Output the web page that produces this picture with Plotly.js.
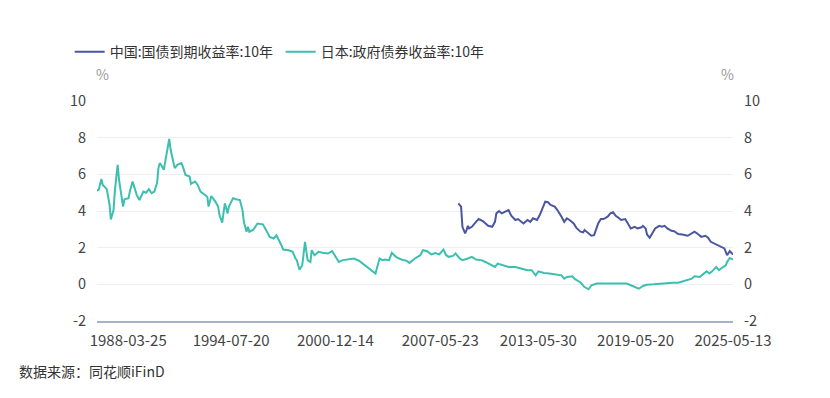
<!DOCTYPE html>
<html>
<head>
<meta charset="utf-8">
<script src="https://cdn.plot.ly/plotly-3.0.1.min.js"></script>
<style>html,body{margin:0;padding:0;background:#fff;}#chart{width:830px;height:398px;}</style>
</head>
<body>
<div id="chart"></div>
<script>
// ---- data ----
const seriesNames = ["中国:国债到期收益率:10年", "日本:政府债券收益率:10年"];

const japanDates = ["1986-04","1986-06","1986-08","1986-09","1986-12","1987-02","1987-03","1987-05","1987-06","1987-07","1987-08","1987-09","1987-10","1987-12","1988-01","1988-04","1988-05","1988-07","1988-08","1988-10","1988-12","1989-03","1989-05","1989-07","1989-09","1989-11","1990-01","1990-02","1990-03","1990-04","1990-06","1990-07","1990-09","1990-10","1990-11","1991-01","1991-02","1991-04","1991-07","1991-08","1991-10","1992-01","1992-02","1992-05","1992-07","1992-09","1992-12","1993-02","1993-03","1993-05","1993-08","1993-10","1993-11","1994-01","1994-03","1994-05","1994-06","1994-09","1994-11","1995-02","1995-04","1995-05","1995-07","1995-08","1995-09","1995-12","1996-03","1996-07","1996-10","1996-12","1997-03","1997-05","1997-08","1997-10","1998-02","1998-05","1998-07","1998-08","1998-10","1998-12","1999-02","1999-04","1999-06","1999-07","1999-09","1999-12","2000-03","2000-07","2000-10","2000-12","2001-03","2001-06","2001-10","2002-02","2002-06","2002-10","2003-02","2003-06","2003-07","2003-09","2003-11","2004-01","2004-04","2004-06","2004-09","2005-01","2005-05","2005-07","2005-11","2006-03","2006-05","2006-08","2006-11","2007-02","2007-05","2007-08","2007-10","2007-12","2008-03","2008-05","2008-08","2008-10","2009-02","2009-05","2009-08","2009-12","2010-03","2010-07","2010-10","2010-12","2011-04","2011-08","2012-01","2012-05","2012-10","2013-01","2013-04","2013-06","2013-10","2014-02","2014-07","2014-11","2015-01","2015-03","2015-07","2015-09","2016-01","2016-03","2016-04","2016-07","2016-09","2017-01","2017-04","2017-09","2018-01","2018-06","2018-11","2019-02","2019-06","2019-08","2019-11","2020-02","2020-07","2020-12","2021-04","2021-09","2022-01","2022-04","2022-08","2022-11","2023-01","2023-05","2023-07","2023-10","2023-12","2024-02","2024-05","2024-07","2024-09","2024-12","2025-01","2025-03","2025-05-13"];
const japanValues = [5.11,5.15,5.74,5.42,5.19,4.33,3.54,4.05,5.15,5.70,6.52,5.70,5.19,4.24,4.64,4.70,5.06,5.61,5.37,4.88,4.60,5.06,5.00,5.19,4.97,5.06,5.52,6.34,6.61,6.52,6.25,6.70,7.44,7.93,7.34,6.61,6.34,6.52,6.61,6.43,5.97,5.88,5.48,5.61,5.42,5.06,4.92,4.78,4.24,4.82,4.51,4.24,3.78,3.36,4.42,3.87,4.24,4.70,4.64,4.60,4.05,3.41,2.87,3.14,2.87,2.98,3.32,3.27,2.87,2.59,2.50,2.68,2.23,1.90,1.86,1.77,1.41,1.32,0.80,1.04,2.32,1.32,1.22,1.86,1.59,1.77,1.72,1.68,1.81,1.59,1.22,1.32,1.35,1.41,1.28,1.04,0.80,0.59,0.86,1.41,1.32,1.35,1.32,1.72,1.50,1.35,1.28,1.17,1.41,1.59,1.86,1.81,1.63,1.70,1.63,1.90,1.59,1.50,1.55,1.68,1.41,1.32,1.41,1.50,1.35,1.32,1.22,1.04,0.95,1.13,1.04,0.95,0.95,0.86,0.77,0.77,0.49,0.71,0.62,0.59,0.55,0.49,0.31,0.40,0.44,0.28,0.10,-0.09,-0.15,-0.27,-0.05,0.04,0.04,0.04,0.04,0.00,0.04,-0.05,-0.15,-0.24,-0.09,-0.02,0.00,0.04,0.04,0.09,0.09,0.16,0.22,0.31,0.44,0.40,0.53,0.71,0.59,0.71,0.95,0.77,0.89,1.04,1.22,1.44,1.35];

const chinaDates = ["2008-07","2008-09","2008-10","2008-12","2009-01","2009-02","2009-03","2009-05","2009-08","2009-10","2010-01","2010-03","2010-05","2010-08","2010-10","2010-11","2011-01","2011-03","2011-05","2011-08","2011-10","2012-01","2012-03","2012-05","2012-07","2012-10","2012-12","2013-02","2013-05","2013-07","2013-09","2013-11","2014-01","2014-03","2014-06","2014-08","2014-11","2015-01","2015-03","2015-05","2015-08","2015-10","2016-01","2016-03","2016-04","2016-06","2016-09","2016-11","2017-01","2017-02","2017-04","2017-06","2017-09","2017-11","2018-01","2018-03","2018-05","2018-07","2018-10","2018-12","2019-02","2019-05","2019-07","2019-10","2019-11","2020-01","2020-02","2020-04","2020-06","2020-08","2020-11","2021-01","2021-03","2021-05","2021-08","2021-10","2022-01","2022-04","2022-08","2022-11","2023-01","2023-04","2023-06","2023-09","2023-11","2024-01","2024-05","2024-08","2024-11","2025-01","2025-03","2025-05-13"];
const chinaValues = [4.42,4.24,3.14,2.78,2.96,3.19,3.05,3.14,3.41,3.56,3.45,3.32,3.19,3.14,3.41,3.87,4.00,3.87,3.96,4.05,3.74,3.51,3.56,3.45,3.32,3.51,3.41,3.60,3.51,3.78,4.15,4.51,4.48,4.33,4.24,4.05,3.69,3.41,3.60,3.51,3.32,3.08,2.87,2.83,2.96,2.83,2.65,2.68,3.14,3.32,3.56,3.56,3.69,3.87,3.93,3.74,3.63,3.51,3.56,3.27,3.05,3.14,3.05,3.11,3.19,3.05,2.72,2.54,2.78,3.05,3.19,3.14,3.19,3.05,2.92,2.90,2.74,2.72,2.65,2.78,2.87,2.72,2.59,2.65,2.54,2.32,2.18,2.10,1.96,1.59,1.81,1.63];

const xTickLabels = ["1988-03-25","1994-07-20","2000-12-14","2007-05-23","2013-05-30","2019-05-20","2025-05-13"];
const yTicks = [-2,0,2,4,6,8,10];
const yTickLabels = ["-2","0","2","4","6","8","10"];
const xRange = ["1986-04-25","2025-05-13"];
const yRange = [-2,10];

// ---- chart ----
const FONT = '"Noto Sans CJK SC", "Noto Sans", sans-serif';
const XTICKFONT = {family: FONT, size: 15, color: '#444'};
const YTICKFONT = {family: FONT, size: 14.5, color: '#444'};
const traces = [
  {x: chinaDates, y: chinaValues, name: seriesNames[0], type: 'scatter', mode: 'lines',
   yaxis: 'y2', line: {color: '#4a56a0', width: 2}, hoverinfo: 'skip'},
  {x: japanDates, y: japanValues, name: seriesNames[1], type: 'scatter', mode: 'lines',
   line: {color: '#3cbfae', width: 2}, hoverinfo: 'skip'}
];

const layout = {
  width: 830, height: 398,
  margin: {l: 97, r: 97, t: 101, b: 77},
  paper_bgcolor: '#ffffff', plot_bgcolor: '#ffffff',
  font: {family: FONT, size: 14, color: '#333'},
  showlegend: true,
  legend: {orientation: 'h', x: -0.043, xanchor: 'left', y: 1.295, yanchor: 'top',
           font: {family: FONT, size: 14, color: '#333'}, itemwidth: 30,
           entrywidth: 166, traceorder: 'normal', bgcolor: 'rgba(0,0,0,0)'},
  xaxis: {type: 'date', range: xRange, tickvals: xTickLabels, ticktext: xTickLabels,
          showgrid: false, zeroline: false, showline: true, linecolor: '#a9b1c6', linewidth: 2,
          ticks: '', ticklabelstandoff: 5, tickfont: XTICKFONT, fixedrange: true},
  yaxis: {range: yRange, tickvals: yTicks, ticktext: yTickLabels, showgrid: true,
          gridcolor: '#eceff6', gridwidth: 1,
          zeroline: false, showline: false, ticks: '', ticklabelstandoff: 10,
          tickfont: YTICKFONT, fixedrange: true},
  yaxis2: {range: yRange, tickvals: yTicks, ticktext: yTickLabels, overlaying: 'y', side: 'right',
           showgrid: false, zeroline: false, showline: false, ticks: '', ticklabelstandoff: 10,
           tickfont: YTICKFONT, fixedrange: true},
  annotations: [
    {text: '%', xref: 'paper', yref: 'paper', x: 0.008, y: 1.125, xanchor: 'center', yanchor: 'middle',
     showarrow: false, font: {family: FONT, size: 14, color: '#999'}},
    {text: '%', xref: 'paper', yref: 'paper', x: 0.992, y: 1.125, xanchor: 'center', yanchor: 'middle',
     showarrow: false, font: {family: FONT, size: 14, color: '#999'}},
    {text: '数据来源：同花顺iFinD', xref: 'paper', yref: 'paper', x: -0.1258, y: -0.225,
     xanchor: 'left', yanchor: 'middle', showarrow: false, font: {family: FONT, size: 14, color: '#333'}}
  ]
};

Plotly.newPlot('chart', traces, layout, {displayModeBar: false, staticPlot: true});
</script>
</body>
</html>
